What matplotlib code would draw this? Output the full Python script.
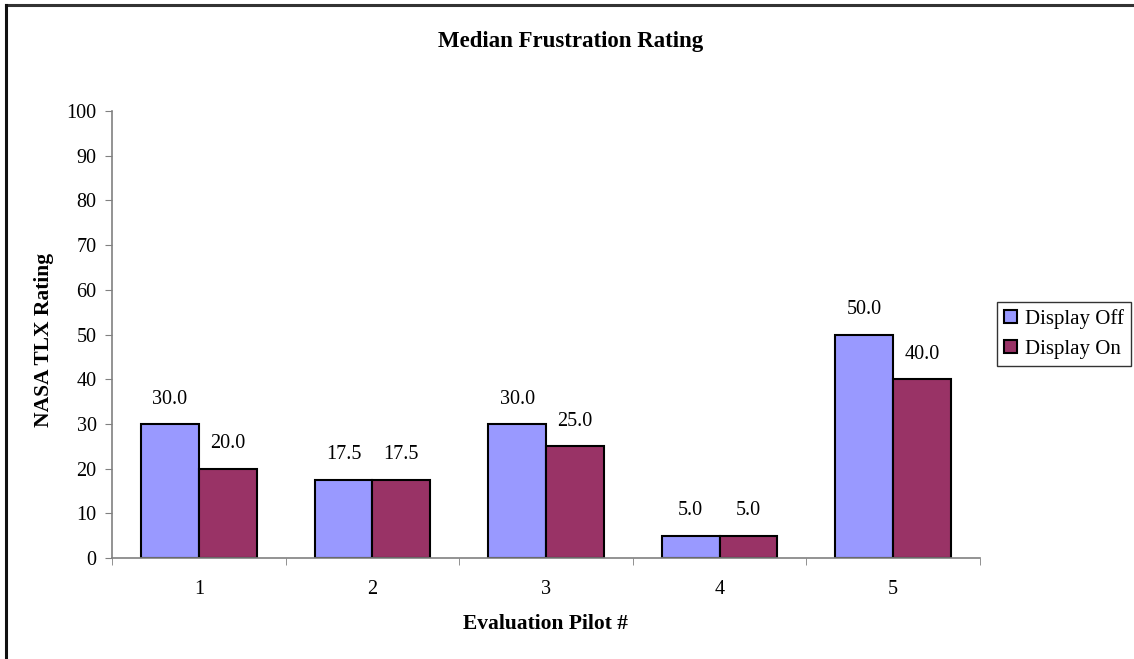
import matplotlib
matplotlib.use("Agg")
import matplotlib.pyplot as plt
from matplotlib.lines import Line2D

# Dados: mediana da frustração (NASA TLX) por piloto
pilotos = ["1", "2", "3", "4", "5"]
display_off = [30.0, 17.5, 30.0, 5.0, 50.0]
display_on = [20.0, 17.5, 25.0, 5.0, 40.0]
series = ["Display Off", "Display On"]
cores = ["#9999FF", "#993366"]

plt.rcParams["font.family"] = ["Liberation Serif", "DejaVu Serif"]

W, H = 1134, 659
fig = plt.figure(figsize=(W / 100, H / 100), dpi=100)
ax = fig.add_axes([112 / W, 1 - 558 / H, (980 - 112) / W, (558 - 111) / H])

# moldura externa (apenas topo e esquerda)
fig.add_artist(Line2D([6 / W, 1], [1 - 5 / H, 1 - 5 / H], color="#333333", lw=2.2,
                      transform=fig.transFigure))
fig.add_artist(Line2D([6 / W, 6 / W], [0, 1 - 5 / H], color="#111111", lw=2.2,
                      transform=fig.transFigure))

x = list(range(1, len(pilotos) + 1))
largura = 1 / 3
for i, (valores, nome, cor) in enumerate(zip([display_off, display_on], series, cores)):
    pos = [xi + (i - 0.5) * largura for xi in x]
    barras = ax.bar(pos, valores, width=largura, color=cor, edgecolor="black",
                    linewidth=1.5, label=nome)
    for b, v in zip(barras, valores):
        ax.annotate(f"{v:.1f}", (b.get_x() + b.get_width() / 2, v),
                    xytext=(0, 11), textcoords="offset points",
                    ha="center", va="bottom", fontsize=14.5)

ax.set_xlim(0.5, 5.5)
ax.set_ylim(0, 100)
ax.set_yticks(range(0, 101, 10))
ax.set_xticks(x)
ax.set_xticklabels(pilotos)
ax.set_xticks([k + 0.5 for k in range(0, 6)], minor=True)
ax.tick_params(axis="x", which="major", length=0, pad=16, labelsize=14.5)
ax.tick_params(axis="x", which="minor", length=5, direction="out", color="#808080")
ax.tick_params(axis="y", length=5, direction="out", color="#808080", labelsize=14.5, pad=6)

for lado in ["top", "right"]:
    ax.spines[lado].set_visible(False)
for lado in ["left", "bottom"]:
    ax.spines[lado].set_color("#808080")
    ax.spines[lado].set_linewidth(1.2)

fig.text(571 / W, 1 - 41 / H, "Median Frustration Rating", ha="center", va="center",
         fontsize=16.5, fontweight="bold")
fig.text(545 / W, 1 - 624 / H, "Evaluation Pilot #", ha="center", va="center",
         fontsize=15.5, fontweight="bold")
fig.text(44 / W, 1 - 340 / H, "NASA TLX Rating", ha="center", va="center",
         rotation=90, fontsize=15.5, fontweight="bold")

handles, labels = ax.get_legend_handles_labels()
leg = fig.legend(handles, labels, loc="center", bbox_to_anchor=(1064 / W, 1 - 334 / H),
                 fontsize=15, frameon=True, fancybox=False, edgecolor="black",
                 handlelength=0.6, handleheight=0.6, handletextpad=0.4,
                 borderpad=0.35, labelspacing=0.55, borderaxespad=0)
leg.get_frame().set_linewidth(1.0)

fig.savefig("out.png", dpi=100, facecolor="white")
